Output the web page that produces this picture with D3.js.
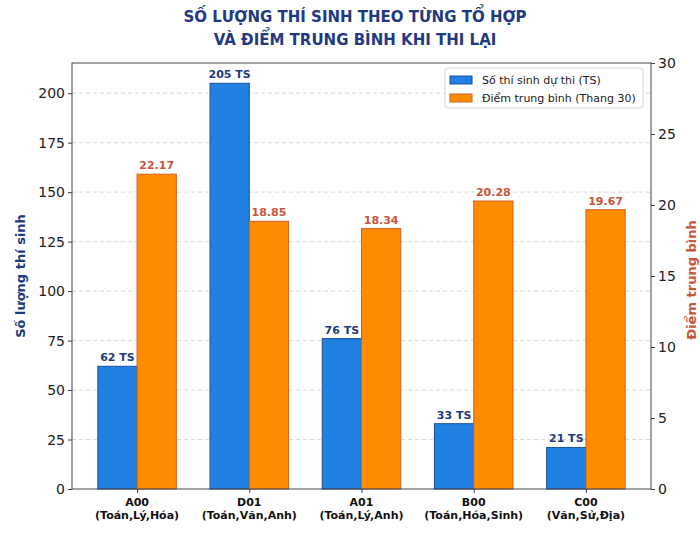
<!DOCTYPE html>
<html>
<head>
<meta charset="utf-8">
<script src="https://cdn.jsdelivr.net/npm/d3@7"></script>
<style>
  body { margin: 0; background: #fff; }
  text { font-family: "DejaVu Sans", sans-serif; }
</style>
</head>
<body>
<div id="chart"></div>
<script>
// data
var codes = ["A00", "D01", "A01", "B00", "C00"];
var subjects = ["(Toán,Lý,Hóa)", "(Toán,Văn,Anh)", "(Toán,Lý,Anh)", "(Toán,Hóa,Sinh)", "(Văn,Sử,Địa)"];
var candidates = [62, 205, 76, 33, 21];
var avgScores = [22.17, 18.85, 18.34, 20.28, 19.67];
var leftTicks = [0, 25, 50, 75, 100, 125, 150, 175, 200];
var rightTicks = [0, 5, 10, 15, 20, 25, 30];

var BLUE = "#2181e2", BLUE_EDGE = "#1b4f9c";
var ORANGE = "#ff8c00", ORANGE_EDGE = "#d0602a";
var NAVY = "#1f3a80", RUST = "#c8553a";

var W = 700, H = 535;
var plotL = 72, plotR = 651, plotT = 63, plotB = 489;
var barW = 0.35;

var svg = d3.select("#chart").append("svg").attr("width", W).attr("height", H);

var x = d3.scaleLinear().domain([-0.58, codes.length - 1 + 0.58]).range([plotL, plotR]);
var yL = d3.scaleLinear().domain([0, 205 * 1.05]).range([plotB, plotT]);
var yR = d3.scaleLinear().domain([0, 30]).range([plotB, plotT]);

// grid
svg.append("g").selectAll("line").data(leftTicks.slice(1)).enter().append("line")
  .attr("x1", plotL).attr("x2", plotR)
  .attr("y1", function(d){ return yL(d); }).attr("y2", function(d){ return yL(d); })
  .attr("stroke", "#cfcfcf").attr("stroke-width", 0.8).attr("stroke-dasharray", "4,3");

// bars
svg.append("g").selectAll("rect").data(candidates).enter().append("rect")
  .attr("x", function(d, i){ return x(i - barW); })
  .attr("width", x(barW) - x(0))
  .attr("y", function(d){ return yL(d); })
  .attr("height", function(d){ return plotB - yL(d); })
  .attr("fill", BLUE).attr("stroke", BLUE_EDGE).attr("stroke-width", 1);

svg.append("g").selectAll("rect").data(avgScores).enter().append("rect")
  .attr("x", function(d, i){ return x(i); })
  .attr("width", x(barW) - x(0))
  .attr("y", function(d){ return yR(d); })
  .attr("height", function(d){ return plotB - yR(d); })
  .attr("fill", ORANGE).attr("stroke", ORANGE_EDGE).attr("stroke-width", 1);

// value labels
svg.append("g").selectAll("text").data(candidates).enter().append("text")
  .attr("x", function(d, i){ return x(i - barW / 2); })
  .attr("y", function(d){ return yL(d) - 5; })
  .attr("text-anchor", "middle").attr("font-size", 11).attr("font-weight", "bold")
  .attr("fill", NAVY)
  .text(function(d){ return d + " TS"; });

svg.append("g").selectAll("text").data(avgScores).enter().append("text")
  .attr("x", function(d, i){ return x(i + barW / 2); })
  .attr("y", function(d){ return yR(d) - 5; })
  .attr("text-anchor", "middle").attr("font-size", 11).attr("font-weight", "bold")
  .attr("fill", RUST)
  .text(function(d){ return d.toFixed(2); });

// axes
var axL = svg.append("g").attr("transform", "translate(" + plotL + ",0)")
  .call(d3.axisLeft(yL).tickValues(leftTicks).tickSize(4).tickPadding(3).tickSizeOuter(0));
var axR = svg.append("g").attr("transform", "translate(" + plotR + ",0)")
  .call(d3.axisRight(yR).tickValues(rightTicks).tickSize(4).tickPadding(3).tickSizeOuter(0));
var axB = svg.append("g").attr("transform", "translate(0," + plotB + ")")
  .call(d3.axisBottom(x).tickValues(d3.range(codes.length)).tickSize(4).tickSizeOuter(0).tickFormat(""));

[axL, axR].forEach(function(a){
  a.selectAll("text").attr("font-size", 14).attr("fill", "#222")
    .style("font-family", "DejaVu Sans");
});
[axL, axR, axB].forEach(function(a){
  a.select(".domain").remove();
  a.selectAll(".tick line").attr("stroke", "#444");
});

// category labels, two lines
var cat = svg.append("g").selectAll("text").data(codes).enter().append("text")
  .attr("text-anchor", "middle").attr("font-size", 11).attr("font-weight", "bold")
  .attr("fill", "#111");
cat.append("tspan").attr("x", function(d, i){ return x(i); }).attr("y", 506)
  .text(function(d){ return d; });
cat.append("tspan").attr("x", function(d, i){ return x(i); }).attr("y", 519)
  .text(function(d, i){ return subjects[i]; });

// frame
svg.append("rect").attr("x", plotL).attr("y", plotT)
  .attr("width", plotR - plotL).attr("height", plotB - plotT)
  .attr("fill", "none").attr("stroke", "#444").attr("stroke-width", 1);

// axis titles
svg.append("text").attr("transform", "translate(25," + (plotT + plotB) / 2 + ") rotate(-90)")
  .attr("text-anchor", "middle").attr("font-size", 13).attr("font-weight", "bold")
  .attr("fill", NAVY).text("Số lượng thí sinh");
svg.append("text").attr("transform", "translate(696," + ((plotT + plotB) / 2 + 4) + ") rotate(-90)")
  .attr("text-anchor", "middle").attr("font-size", 13).attr("font-weight", "bold")
  .attr("fill", RUST).text("Điểm trung bình");

// title
var title = svg.append("text").attr("text-anchor", "middle").attr("font-size", 15)
  .attr("font-weight", "bold").attr("fill", NAVY);
title.append("tspan").attr("x", 355).attr("y", 22).text("SỐ LƯỢNG THÍ SINH THEO TỪNG TỔ HỢP");
title.append("tspan").attr("x", 355).attr("y", 45).text("VÀ ĐIỂM TRUNG BÌNH KHI THI LẠI");

// legend
var lg = svg.append("g").attr("transform", "translate(445,68)");
lg.append("rect").attr("width", 198).attr("height", 40).attr("rx", 3)
  .attr("fill", "#fff").attr("fill-opacity", 0.9).attr("stroke", "#d6d6d6");
var items = [["Số thí sinh dự thi (TS)", BLUE, BLUE_EDGE], ["Điểm trung bình (Thang 30)", ORANGE, ORANGE_EDGE]];
var li = lg.selectAll("g.item").data(items).enter().append("g")
  .attr("transform", function(d, i){ return "translate(5," + (8 + i * 18) + ")"; });
li.append("rect").attr("width", 22).attr("height", 8)
  .attr("fill", function(d){ return d[1]; }).attr("stroke", function(d){ return d[2]; });
li.append("text").attr("x", 32).attr("y", 8).attr("font-size", 11).attr("fill", "#222")
  .text(function(d){ return d[0]; });
</script>
</body>
</html>
